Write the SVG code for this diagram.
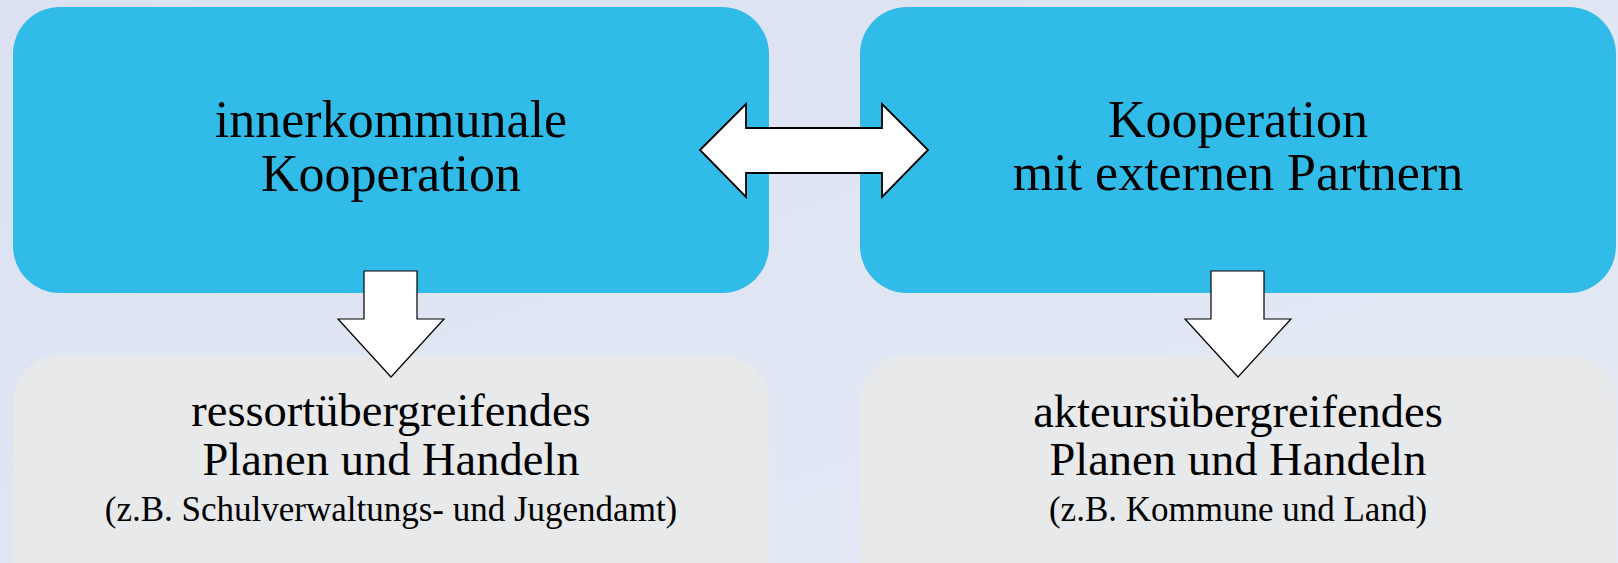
<svg xmlns="http://www.w3.org/2000/svg" width="1618" height="563" viewBox="0 0 1618 563">
<defs>
<linearGradient id="bg" x1="0" y1="0" x2="1" y2="1">
<stop offset="0" stop-color="#DBE1F2"/>
<stop offset="1" stop-color="#E5EAF6"/>
</linearGradient>
<style>
.top{fill:#31BBE9;}
.bot{fill:#E7E9EA;}
.t{font-family:"Liberation Serif","Times New Roman",serif;fill:#000;text-anchor:middle;}
.big{font-size:52px;}
.mid{font-size:46.5px;}
.small{font-size:35px;}
.arr{fill:#FFFFFF;stroke:#000;stroke-linejoin:miter;}
</style>
</defs>
<rect x="0" y="0" width="1618" height="563" fill="url(#bg)"/>
<g id="node-innerkommunal">
<rect class="top" x="13" y="7" width="756" height="286" rx="47" ry="47"/>
<text class="t big" x="391" y="137">innerkommunale</text>
<text class="t big" x="391" y="191">Kooperation</text>
</g>
<g id="node-extern">
<rect class="top" x="860" y="7" width="756" height="286" rx="47" ry="47"/>
<text class="t big" x="1238" y="137">Kooperation</text>
<text class="t big" x="1238" y="190">mit externen Partnern</text>
</g>
<g id="node-ressort">
<rect class="bot" x="13" y="355" width="756" height="286" rx="47" ry="47"/>
<text class="t mid" x="391" y="426">ressortübergreifendes</text>
<text class="t mid" x="391" y="475">Planen und Handeln</text>
<text class="t small" x="391" y="521">(z.B. Schulverwaltungs- und Jugendamt)</text>
</g>
<g id="node-akteur">
<rect class="bot" x="860" y="355" width="756" height="286" rx="47" ry="47"/>
<text class="t mid" x="1238" y="427">akteursübergreifendes</text>
<text class="t mid" x="1238" y="475">Planen und Handeln</text>
<text class="t small" x="1238" y="521">(z.B. Kommune und Land)</text>
</g>
<g id="connectors">
<polygon class="arr" stroke-width="1.8" points="700,150 746,104 746,128 882,128 882,104 928,150 882,197 882,173 746,173 746,197"/>
<polygon class="arr" stroke-width="1.2" points="364,271 417,271 417,319 444,319 391,377 338,319 364,319"/>
<polygon class="arr" stroke-width="1.2" points="1211,271 1264,271 1264,319 1291,319 1238,377 1185,319 1211,319"/>
</g>
</svg>
